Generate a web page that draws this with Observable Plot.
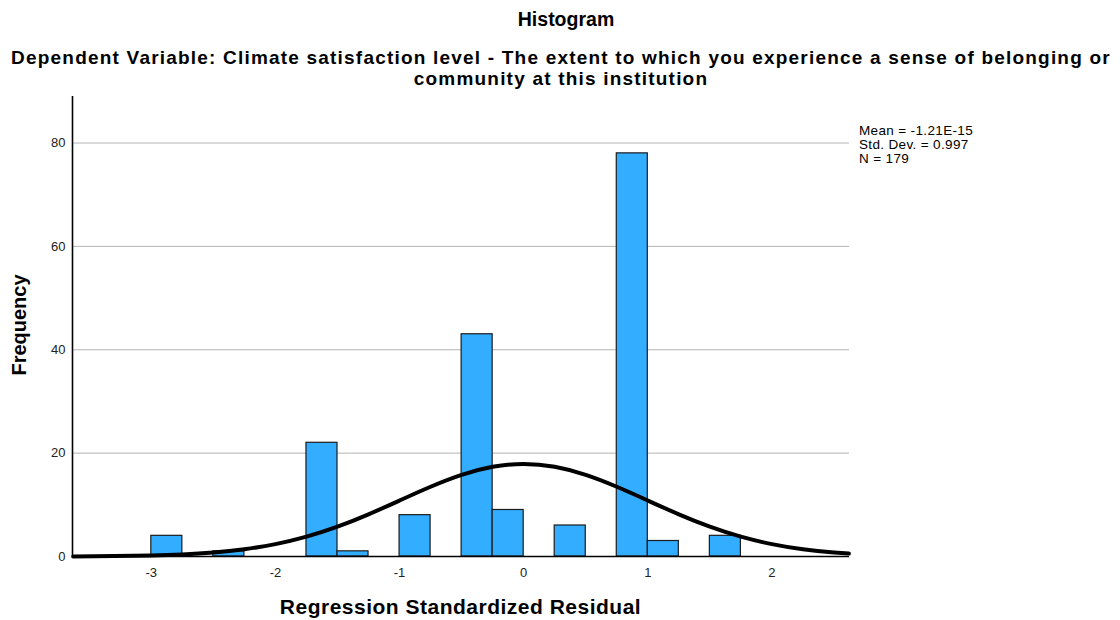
<!DOCTYPE html>
<html>
<head>
<meta charset="utf-8">
<script src="https://cdn.jsdelivr.net/npm/d3@7"></script>
<script src="https://cdn.jsdelivr.net/npm/@observablehq/plot@0.6"></script>
<style>
  html, body { margin: 0; padding: 0; background: #fff; }
  #wrap { position: relative; width: 1120px; height: 620px; font-family: "Liberation Sans", Arial, sans-serif; color: #000; overflow: hidden; }
  .abs { position: absolute; white-space: nowrap; z-index: 2; }
  #title { left: 0; width: 1120px; top: 8px; text-align: center; font-weight: bold; font-size: 19.5px; line-height: 22px; padding-left: 12px; box-sizing: border-box; }
  #subtitle { left: 0; width: 1120px; top: 47px; text-align: center; font-weight: bold; font-size: 19px; line-height: 21px; letter-spacing: 1.2px; padding-left: 2px; box-sizing: border-box; }
  #stats { left: 859px; top: 124px; font-size: 13.5px; line-height: 14px; letter-spacing: 0.35px; }
  #xlabel { left: 72px; width: 777px; top: 595px; text-align: center; font-weight: bold; font-size: 21px; line-height: 23px; letter-spacing: 0.5px; }
  #ylabel { left: 19px; top: 325px; transform: translate(-50%, -50%) rotate(-90deg); font-weight: bold; font-size: 20px; line-height: 22px; }
  #chart { position: absolute; left: 0; top: 88px; z-index: 1; }
</style>
</head>
<body>
<div id="wrap">
  <div id="chart"></div>
  <div id="title" class="abs"></div>
  <div id="subtitle" class="abs"></div>
  <div id="stats" class="abs"></div>
  <div id="xlabel" class="abs"></div>
  <div id="ylabel" class="abs"></div>
</div>
<script>
// ---- data ----
const titleText = "Histogram";
const subtitleLines = [
  "Dependent Variable: Climate satisfaction level - The extent to which you experience a sense of belonging or",
  "community at this institution"
];
const statsLines = ["Mean = -1.21E-15", "Std. Dev. = 0.997", "N = 179"];
const xLabel = "Regression Standardized Residual";
const yLabel = "Frequency";

const binLo  = [-3.00, -2.50, -1.75, -1.50, -1.00, -0.50, -0.25, 0.25, 0.75, 1.00, 1.50];
const binHi  = [-2.75, -2.25, -1.50, -1.25, -0.75, -0.25,  0.00, 0.50, 1.00, 1.25, 1.75];
const counts = [4, 1, 22, 1, 8, 43, 9, 6, 78, 3, 4];

const curveX = [-3.63, -3.3, -3.0, -2.75, -2.5, -2.25, -2.0, -1.75, -1.5, -1.25, -1.0, -0.75, -0.5, -0.25, 0.0,
                0.25, 0.5, 0.75, 1.0, 1.25, 1.5, 1.75, 2.0, 2.25, 2.5, 2.62];
const curveY = [0.023, 0.075, 0.194, 0.399, 0.772, 1.403, 2.394, 3.837, 5.773, 8.160, 10.83, 13.49, 15.79, 17.35, 17.91,
                17.35, 15.79, 13.49, 10.83, 8.160, 5.773, 3.837, 2.394, 1.403, 0.772, 0.566];

const xTicks = [-3, -2, -1, 0, 1, 2];
const yTicks = [0, 20, 40, 60, 80];
const xDomain = [-3.635, 2.625];
const yDomain = [0, 89];

// ---- tables ----
const bars = binLo.map((lo, i) => ({lo, hi: binHi[i], count: counts[i]}));
const curve = curveX.map((x, i) => ({x, y: curveY[i]}));

document.getElementById("title").textContent = titleText;
document.getElementById("subtitle").innerHTML = subtitleLines.map(s => `<div>${s}</div>`).join("");
document.getElementById("stats").innerHTML = statsLines.map(s => `<div>${s}</div>`).join("");
document.getElementById("xlabel").textContent = xLabel;
document.getElementById("ylabel").textContent = yLabel;

const fmt = d => String(d);

const chart = Plot.plot({
  width: 1120,
  height: 532,
  marginLeft: 72,
  marginRight: 271,
  marginTop: 8,
  marginBottom: 64,
  style: {fontFamily: "'Liberation Sans', Arial, sans-serif", fontSize: "13px", color: "#222", background: "transparent"},
  x: {domain: xDomain, label: null},
  y: {domain: yDomain, label: null},
  marks: [
    Plot.gridY(yTicks.filter(d => d > 0), {stroke: "#b5b5b5", strokeOpacity: 1, strokeWidth: 1}),
    Plot.rectY(bars, {x1: "lo", x2: "hi", y: "count", fill: "#33adff", stroke: "#1c1c1c", strokeWidth: 1.2, inset: 0}),
    Plot.line(curve, {x: "x", y: "y", stroke: "#000", strokeWidth: 4, curve: "natural"}),
    Plot.ruleY([0], {stroke: "#000", strokeWidth: 1.6}),
    Plot.ruleX([xDomain[0]], {stroke: "#000", strokeWidth: 1.6}),
    Plot.axisX({ticks: xTicks, tickSize: 0, tickPadding: 11, tickFormat: fmt, fontSize: 13, label: null}),
    Plot.axisY({ticks: yTicks, tickSize: 0, tickPadding: 7, tickFormat: fmt, fontSize: 13, label: null})
  ]
});
document.getElementById("chart").appendChild(chart);
</script>
</body>
</html>
